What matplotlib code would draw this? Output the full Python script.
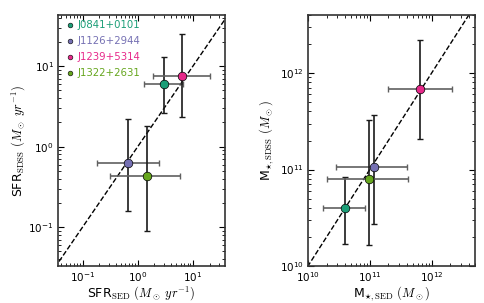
import matplotlib
matplotlib.use("Agg")
import matplotlib.pyplot as plt
import numpy as np

names = ['J0841+0101', 'J1126+2944', 'J1239+5314', 'J1322+2631']
colors = ['#1b9e77', '#7570b3', '#e7298a', '#66a61e']

# SFR (Msun/yr)
sfr_sed = np.array([3.0, 0.68, 6.3, 1.45])
sfr_sed_lo = np.array([1.3, 0.18, 1.9, 0.31])
sfr_sed_hi = np.array([6.5, 2.4, 20.0, 5.8])
sfr_sdss = np.array([6.0, 0.63, 7.5, 0.43])
sfr_sdss_lo = np.array([2.6, 0.16, 2.3, 0.089])
sfr_sdss_hi = np.array([13.0, 2.2, 25.0, 1.8])

# stellar mass (Msun)
m_sed = np.array([4.0e10, 1.15e11, 6.5e11, 9.8e10])
m_sed_lo = np.array([1.75e10, 2.8e10, 1.95e11, 2.0e10])
m_sed_hi = np.array([8.5e10, 4.0e11, 2.1e12, 4.1e11])
m_sdss = np.array([4.0e10, 1.05e11, 6.9e11, 8.0e10])
m_sdss_lo = np.array([1.7e10, 2.7e10, 2.05e11, 1.65e10])
m_sdss_hi = np.array([8.4e10, 3.7e11, 2.2e12, 3.3e11])

plt.rcParams['font.family'] = 'DejaVu Sans'
plt.rcParams['xtick.direction'] = 'in'
plt.rcParams['ytick.direction'] = 'in'
plt.rcParams['xtick.top'] = True
plt.rcParams['ytick.right'] = True

fig = plt.figure(figsize=(4.85, 3.03), dpi=100)
ax1 = fig.add_axes([0.1196, 0.1221, 0.3443, 0.8284])
ax2 = fig.add_axes([0.635, 0.1221, 0.344, 0.8284])


def panel(ax, x, xlo, xhi, y, ylo, yhi, with_legend):
    ax.plot([1e-3, 1e14], [1e-3, 1e14], 'k--', lw=1, zorder=1)
    for i in range(len(x)):
        ax.errorbar(x[i], y[i], xerr=[[x[i] - xlo[i]], [xhi[i] - x[i]]],
                    fmt='none', ecolor='#606060', elinewidth=1.2, capsize=2.2, zorder=2)
        ax.errorbar(x[i], y[i], yerr=[[y[i] - ylo[i]], [yhi[i] - y[i]]],
                    fmt='none', ecolor='#1a1a1a', elinewidth=1.2, capsize=2.2, zorder=2)
        ax.plot(x[i], y[i], 'o', color=colors[i], mec='k', mew=0.5, ms=6.2,
                zorder=3, label=names[i])
    ax.set_xscale('log')
    ax.set_yscale('log')
    for s in ax.spines.values():
        s.set_linewidth(1.2)
        s.set_color('#333333')
    ax.tick_params(which='major', length=4, labelsize=7.5, pad=3)
    ax.tick_params(which='minor', length=2)
    if with_legend:
        leg = ax.legend(loc='upper left', frameon=False, fontsize=7.3, markerscale=0.55,
                        handletextpad=0.1, handlelength=1.3, borderaxespad=0.3,
                        labelspacing=0.6, borderpad=0.2)
        for t, c in zip(leg.get_texts(), colors):
            t.set_color(c)
        for h in leg.legend_handles:
            h.set_markeredgewidth(0.4)


panel(ax1, sfr_sed, sfr_sed_lo, sfr_sed_hi, sfr_sdss, sfr_sdss_lo, sfr_sdss_hi, True)
ax1.set_xlim(0.036, 38)
ax1.set_ylim(0.033, 43)
ax1.set_xlabel(r'SFR$_{\rm SED}$ $(M_\odot\ yr^{-1})$', fontsize=9, math_fontfamily='cm', labelpad=0.5)
ax1.set_ylabel(r'SFR$_{\rm SDSS}$ $(M_\odot\ yr^{-1})$', fontsize=9, math_fontfamily='cm', labelpad=1)

panel(ax2, m_sed, m_sed_lo, m_sed_hi, m_sdss, m_sdss_lo, m_sdss_hi, False)
ax2.set_xlim(1e10, 5e12)
ax2.set_ylim(1e10, 4e12)
ax2.set_xlabel(r'M$_{\star,\rm SED}$ $(M_\odot)$', fontsize=9, math_fontfamily='cm', labelpad=0.5)
ax2.set_ylabel(r'M$_{\star,\rm SDSS}$ $(M_\odot)$', fontsize=9, math_fontfamily='cm', labelpad=3)

fig.savefig('out.png', dpi=100)
